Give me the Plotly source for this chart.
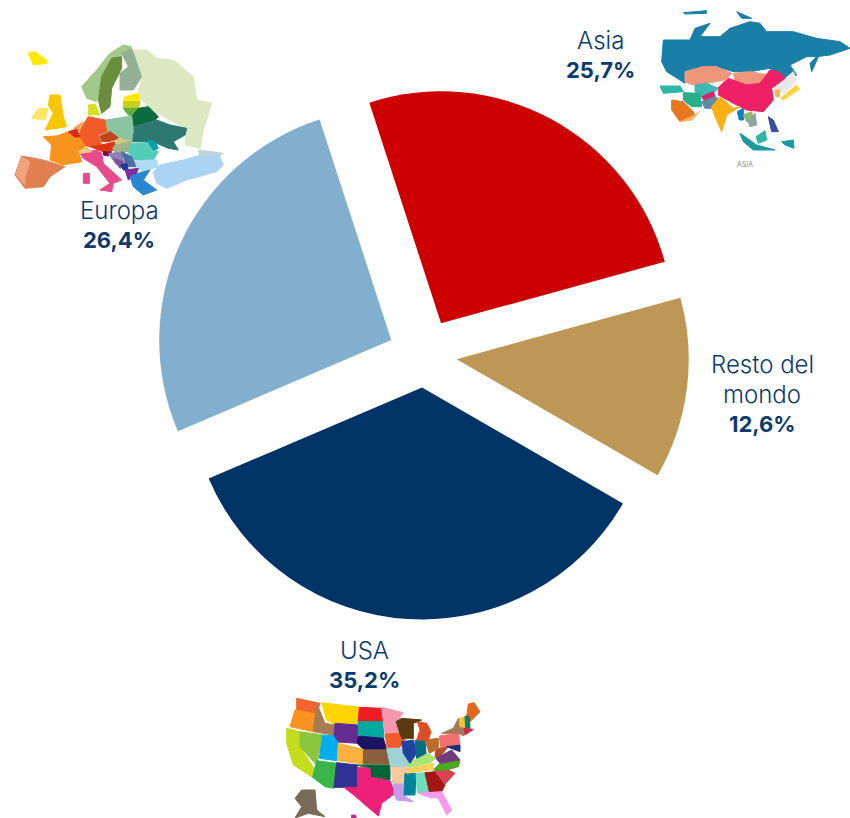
import plotly.graph_objects as go

W, H = 850, 818

# ---- data ----
regions = ["Asia", "Resto del mondo", "USA", "Europa"]
shares = [25.7, 12.6, 35.2, 26.4]
slice_colors = ["#CC0000", "#BD9755", "#003366", "#82AFCD"]
slice_pulls = [0.155, 0.142, 0.14, 0.155]
label_lines = [["Asia"], ["Resto del", "mondo"], ["USA"], ["Europa"]]
label_centres = [(600, 55), (762, 394), (364, 665), (119, 225)]

INK = "#0B3A6F"
FONT = "Inter, Lato, sans-serif"

# ---- decorative map mosaics (colour, outline in crop pixels) ----
EUROPE = [
    ("#FFE800", [(85,70),(105,65),(140,90),(140,100),(100,105)]),
    ("#A3C98A", [(370,45),(395,50),(360,80),(325,110),(300,170),(290,215),(260,205),(245,170),(290,120),(330,70)]),
    ("#DCE8C2", [(390,60),(440,60),(470,85),(520,90),(580,140),(590,210),(635,220),(610,300),(600,355),(555,345),(560,295),(500,265),(450,235),(420,205),(415,180),(428,140),(410,90)]),
    ("#93B095", [(365,70),(395,55),(425,140),(400,180),(360,180),(360,130),(385,110)]),
    ("#6B8E3D", [(335,85),(365,80),(365,115),(335,175),(330,230),(305,250),(295,210),(305,140)]),
    ("#FFE800", [(375,200),(415,190),(420,215),(370,215)]),
    ("#C6CF1E", [(370,215),(420,215),(415,235),(370,235)]),
    ("#62B03A", [(370,235),(415,235),(400,260),(385,255)]),
    ("#0B6B3E", [(415,235),(445,230),(475,260),(465,270),(400,290),(395,260)]),
    ("#2D7871", [(400,290),(470,270),(510,285),(560,295),(555,315),(520,335),(535,360),(505,355),(470,340),(430,335),(395,335)]),
    ("#8AC4A0", [(318,270),(395,258),(400,300),(395,335),(355,320),(320,305)]),
    ("#F15A29", [(240,300),(265,260),(315,270),(320,305),(295,315),(305,345),(270,350),(240,345)]),
    ("#D7DF23", [(265,225),(285,222),(300,255),(265,255)]),
    ("#F7C600", [(150,195),(180,195),(190,260),(200,290),(135,300),(160,250),(145,225)]),
    ("#FFE566", [(95,265),(115,235),(145,235),(135,270)]),
    ("#F4A460", [(220,295),(250,275),(240,300),(230,310)]),
    ("#F7941D", [(130,320),(170,318),(205,305),(240,322),(255,350),(235,365),(245,395),(190,405),(150,390),(155,345)]),
    ("#DA2A10", [(205,305),(230,298),(240,320),(225,322)]),
    ("#E07F50", [(65,378),(130,390),(195,410),(150,440),(130,470),(75,475),(45,435)]),
    ("#F0A47D", [(65,380),(90,395),(75,440),(75,465),(48,435)]),
    ("#E84A8C", [(240,370),(290,360),(305,370),(310,400),(365,450),(340,460),(335,485),(300,480),(330,460),(290,410),(250,385)]),
    ("#E84A8C", [(250,430),(268,430),(268,460),(250,460)]),
    ("#FBC97E", [(235,365),(260,350),(275,365),(240,370)]),
    ("#E1330F", [(270,350),(305,345),(345,335),(340,360),(310,365)]),
    ("#C0451A", [(300,318),(330,305),(358,325),(325,335),(305,335)]),
    ("#CCC97A", [(355,325),(395,335),(390,340),(345,340)]),
    ("#9DB58A", [(345,345),(395,335),(385,365),(345,368),(338,355)]),
    ("#54CDB8", [(395,340),(440,338),(475,365),(460,390),(405,390),(385,368)]),
    ("#009FB0", [(440,330),(465,335),(475,355),(460,360)]),
    ("#7A0D42", [(310,365),(335,365),(325,378),(310,375)]),
    ("#8C7FB8", [(325,370),(365,368),(370,395),(350,405)]),
    ("#7F4E97", [(340,385),(370,395),(375,405),(360,415)]),
    ("#4A6FA5", [(365,365),(395,380),(410,410),(380,410)]),
    ("#1B3A93", [(362,405),(380,400),(385,420),(370,420)]),
    ("#AEDCF2", [(405,392),(470,390),(475,410),(425,425),(410,410)]),
    ("#7E2C9E", [(375,420),(415,415),(410,430),(385,450)]),
    ("#2A87D0", [(390,440),(415,430),(450,420),(430,450),(470,480),(430,495),(400,470)]),
    ("#ABD4F4", [(480,405),(550,390),(640,365),(660,380),(670,405),(650,425),(560,450),(500,475),(470,460),(460,425)]),
    ("#C2D2DC", [(595,360),(670,370),(660,378),(600,375)]),
]
ASIA = [
    ("#1A7FA6", [(40,120),(120,120),(135,85),(180,70),(150,110),(210,110),(240,85),(300,65),(330,70),(350,95),(430,95),(500,115),(570,125),(600,145),(540,165),(500,170),(470,170),(420,195),(440,225),(405,240),(360,205),(300,215),(250,215),(200,200),(150,200),(105,215),(105,250),(50,215),(35,185)]),
    ("#1A7FA6", [(485,215),(480,190),(510,160)]),
    ("#1A7FA6", [(260,35),(305,55),(275,55)]),
    ("#1A7FA6", [(100,38),(170,32),(170,40),(105,42)]),
    ("#F0967A", [(105,215),(160,200),(200,200),(245,220),(225,240),(170,250),(130,255),(105,245)]),
    ("#F0967A", [(250,220),(300,215),(355,225),(330,250),(290,255),(255,240)]),
    ("#E8E8E8", [(370,265),(400,240),(430,215),(440,240),(405,280),(385,270)]),
    ("#EE2066", [(205,262),(235,235),(290,255),(330,250),(360,210),(385,215),(405,235),(365,265),(370,300),(340,335),(290,330),(250,310),(205,285)]),
    ("#FFD23F", [(392,295),(440,255),(448,268),(400,300)]),
    ("#F3B545", [(375,270),(390,270),(388,290),(378,290)]),
    ("#3EB8B0", [(135,255),(170,250),(205,265),(190,280),(155,290),(135,275)]),
    ("#25AE89", [(100,278),(150,280),(155,320),(125,320),(100,300)]),
    ("#D8246C", [(155,290),(190,275),(195,290),(165,305)]),
    ("#5F8BA8", [(155,305),(195,290),(210,300),(195,325),(165,325)]),
    ("#FBB016", [(185,320),(210,290),(250,325),(270,320),(230,345),(215,395),(195,350)]),
    ("#2FB5A6", [(30,258),(90,258),(100,275),(40,280)]),
    ("#E87722", [(65,300),(100,305),(130,335),(135,350),(90,365),(65,330)]),
    ("#F7B267", [(90,365),(135,345),(148,335),(125,360)]),
    ("#0F7FC1", [(262,335),(280,325),(280,360),(268,360)]),
    ("#8FB96E", [(280,345),(305,335),(310,360),(290,365)]),
    ("#8FA3A5", [(295,365),(315,340),(320,375),(300,380)]),
    ("#1A9AA0", [(270,400),(285,410),(320,435),(375,450),(310,450),(280,425)]),
    ("#2FB5A6", [(318,410),(345,392),(350,420),(325,430)]),
    ("#1A9AA0", [(395,425),(430,420),(432,445),(405,435)]),
    ("#3B4BA0", [(355,350),(370,360),(385,395),(365,395)]),
]
USA_MAP = [
    ("#F26430", [(80,25),(150,40),(140,72),(80,60)]),
    ("#F7931E", [(75,60),(140,72),(130,125),(60,110)]),
    ("#C5DC1C", [(50,115),(90,125),(90,170),(135,240),(128,262),(70,225),(50,160)]),
    ("#8CC63F", [(90,125),(158,135),(140,225),(90,170)]),
    ("#A67C52", [(140,40),(165,100),(195,105),(190,135),(130,125)]),
    ("#FFD400", [(155,38),(268,52),(265,100),(195,103),(170,90)]),
    ("#662D91", [(195,100),(265,105),(262,160),(190,155)]),
    ("#EE1C25", [(268,52),(335,55),(338,95),(265,95)]),
    ("#00A99D", [(265,95),(338,95),(342,145),(265,135)]),
    ("#1B1464", [(265,138),(340,145),(350,178),(280,178),(262,160)]),
    ("#00AEEF", [(158,135),(190,137),(205,160),(200,212),(148,205)]),
    ("#FBB040", [(205,160),(280,178),(280,222),(202,212)]),
    ("#39B54A", [(140,212),(200,220),(192,295),(165,290),(128,262)]),
    ("#2E3192", [(200,218),(262,225),(262,292),(192,292)]),
    ("#8B5E3C", [(280,180),(350,180),(360,222),(280,222)]),
    ("#006838", [(262,225),(360,225),(360,270),(302,262),(300,235)]),
    ("#ED2079", [(262,232),(300,235),(302,262),(360,272),(375,310),(335,340),(325,378),(280,340),(255,318),(222,292),(262,292)]),
    ("#F598AE", [(335,52),(400,68),(375,100),(395,130),(345,130)]),
    ("#F15A29", [(345,132),(395,130),(405,150),(390,172),(352,175)]),
    ("#9ED2D6", [(350,175),(392,175),(420,225),(415,232),(362,232)]),
    ("#FBC89F", [(362,232),(415,232),(402,280),(370,282)]),
    ("#C79BE8", [(370,282),(402,282),(400,315),(430,335),(380,330),(372,312)]),
    ("#00849B", [(405,250),(438,250),(435,315),(402,315)]),
    ("#6FDDBB", [(438,250),(465,248),(478,308),(442,308)]),
    ("#A41515", [(465,248),(495,245),(525,285),(515,305),(478,305)]),
    ("#F79AEE", [(445,310),(515,305),(545,360),(530,375),(505,325),(470,320)]),
    ("#D8434F", [(495,242),(535,240),(555,250),(525,282)]),
    ("#4CA81C", [(490,240),(510,220),(570,212),(565,230),(530,240)]),
    ("#F9D25E", [(415,235),(490,220),(490,238),(410,250)]),
    ("#A8E66F", [(415,222),(440,205),(470,190),(498,205),(480,218),(415,232)]),
    ("#1F429E", [(395,155),(430,150),(440,190),(420,220),(400,190)]),
    ("#086C7F", [(435,152),(465,150),(468,190),(440,205)]),
    ("#B86E27", [(465,150),(505,145),(505,175),(478,190)]),
    ("#DF4D26", [(442,95),(470,100),(483,125),(475,150),(440,150),(450,120)]),
    ("#5B3A10", [(378,95),(395,85),(455,90),(430,100),(430,145),(395,145)]),
    ("#F4706E", [(508,138),(565,130),(570,162),(512,172)]),
    ("#A6795A", [(515,130),(550,115),(565,85),(580,100),(582,138),(565,130)]),
    ("#B74C2E", [(498,180),(510,175),(535,170),(505,205),(495,200)]),
    ("#6E3C7F", [(498,205),(545,180),(570,210),(510,220)]),
    ("#1D2F79", [(530,170),(570,165),(570,185)]),
    ("#E0691F", [(595,42),(612,38),(630,65),(600,95),(590,80)]),
    ("#F2C232", [(568,85),(585,82),(585,112),(570,110)]),
    ("#0B7C68", [(585,78),(598,80),(600,115),(587,115)]),
    ("#D7263D", [(582,115),(610,118),(585,135)]),
    ("#7A6A58", [(95,300),(135,300),(140,360),(165,380),(115,370),(75,384),(95,350),(75,325)]),
    ("#B42F8F", [(245,375),(258,376),(258,384),(245,384)]),
]
MAPS = [(EUROPE, 0, 30), (ASIA, 650, 0), (USA_MAP, 270, 690)]


def px(x):
    return x / W


def py(y):
    return 1 - y / H


shapes = []
for polys, ox, oy in MAPS:
    for colour, pts in polys:
        path = "M " + " L ".join(
            f"{px(ox + a / 3):.5f},{py(oy + b / 3):.5f}" for a, b in pts
        ) + " Z"
        shapes.append(dict(type="path", path=path, xref="paper", yref="paper",
                           fillcolor=colour, line=dict(width=1, color=colour), layer="below"))

annotations = []
LINE = 29.5
for lines, share, (cx, cy) in zip(label_lines, shares, label_centres):
    rows = [(t, 300, 24) for t in lines] + [(f"{share:.1f}%".replace(".", ","), 700, 22)]
    top = cy - (len(rows) - 1) * LINE / 2
    for i, (row, weight, size) in enumerate(rows):
        annotations.append(dict(text=row, x=px(cx), y=py(top + i * LINE),
                                xref="paper", yref="paper", showarrow=False,
                                xanchor="center", yanchor="middle",
                                font=dict(family=FONT, size=size, color=INK, weight=weight)))
annotations.append(dict(text="ASIA", x=px(755), y=py(158), xref="paper", yref="paper",
                        showarrow=False, font=dict(family=FONT, size=7, color="#7F8C99")))

fig = go.Figure(go.Pie(
    labels=regions,
    values=shares,
    sort=False,
    direction="clockwise",
    rotation=-18,
    pull=slice_pulls,
    marker=dict(colors=slice_colors, line=dict(width=0)),
    textinfo="none",
    hoverinfo="label+percent",
    domain=dict(x=[px(156), px(692)], y=[py(623), py(87)]),
))
fig.update_layout(
    width=W, height=H,
    margin=dict(l=0, r=0, t=0, b=0),
    showlegend=False,
    paper_bgcolor="white",
    shapes=shapes,
    annotations=annotations,
)
fig.write_html("out.html", config=dict(displayModeBar=False),
               post_script="document.body.style.margin='0';document.documentElement.style.overflow='hidden';")
